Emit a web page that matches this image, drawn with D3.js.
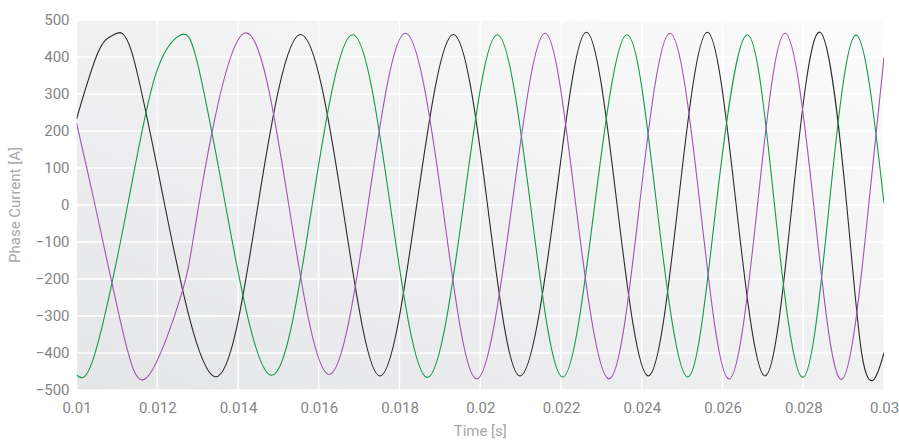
<!DOCTYPE html>
<html>
<head>
<meta charset="utf-8">
<script src="https://cdn.jsdelivr.net/npm/d3@7"></script>
<style>
  body { margin: 0; background: #fff; }
  svg { display: block; font-family: Roboto, "Noto Sans", sans-serif; }
</style>
</head>
<body>
<svg id="phase-current" width="899" height="440"></svg>
<script>
// time ticks / current ticks
const xTicks = [0.01, 0.012, 0.014, 0.016, 0.018, 0.02, 0.022, 0.024, 0.026, 0.028, 0.03];
const yTicks = [-500, -400, -300, -200, -100, 0, 100, 200, 300, 400, 500];

// phase a (black): peaks, zero crossings, troughs (+ a few shoulder points)
const blackT = [0.01, 0.01054, 0.010925, 0.011367, 0.012185, 0.01343, 0.014495, 0.015553, 0.016586, 0.017517, 0.018426, 0.019333, 0.02018, 0.020985, 0.021851, 0.022629, 0.02339, 0.024162, 0.024898, 0.025624, 0.026339, 0.027053, 0.027721, 0.028415, 0.029076, 0.029447, 0.029752, 0.03];
const blackI = [232, 414, 460, 414, 0, -464, 0, 461, 0, -462, 0, 461, 0, -462, 0, 467, 0, -462, 0, 467, 0, -462, 0, 467, 0, -401, -471, -399];

// phase b (green)
const greenT = [0.01, 0.010458, 0.011268, 0.011944, 0.012563, 0.012977, 0.01369, 0.01481, 0.015838, 0.016841, 0.01777, 0.018689, 0.019585, 0.020422, 0.021245, 0.022042, 0.022835, 0.023635, 0.02437, 0.025138, 0.025844, 0.026614, 0.027288, 0.027986, 0.028643, 0.029307, 0.03];
const greenI = [-459, -401, 0, 347, 459, 392, 0, -460, 0, 460, 0, -466, 0, 460, 0, -465, 0, 460, 0, -465, 0, 460, 0, -466, 0, 459, 4];

// phase c (purple)
const purpleT = [0.01, 0.010458, 0.011159, 0.011778, 0.012606, 0.013029, 0.014149, 0.015258, 0.016261, 0.01722, 0.018144, 0.019065, 0.019912, 0.020786, 0.021604, 0.022367, 0.023189, 0.023944, 0.0247, 0.025443, 0.026161, 0.026867, 0.027548, 0.028259, 0.02896, 0.029621, 0.03];
const purpleI = [221, 0, -347, -462, -239, 0, 464, 0, -458, 0, 464, 0, -470, 0, 464, 0, -470, 0, 464, 0, -470, 0, 464, 0, -471, 0, 399];

const phases = [
  {t: blackT, i: blackI, color: '#2a2a2a'},
  {t: greenT, i: greenI, color: '#119a4a'},
  {t: purpleT, i: purpleI, color: '#9d55b0'}
];

const margin = {top: 20, right: 15, bottom: 50, left: 76.5};
const width = 899 - margin.left - margin.right;
const height = 440 - margin.top - margin.bottom;

const svg = d3.select('#phase-current');

const defs = svg.append('defs');
const grad = defs.append('linearGradient')
  .attr('id', 'bg')
  .attr('x1', '0%').attr('y1', '100%')
  .attr('x2', '100%').attr('y2', '0%');
grad.append('stop').attr('offset', '0%').attr('stop-color', '#e4e5e7');
grad.append('stop').attr('offset', '100%').attr('stop-color', '#fcfcfc');

defs.append('clipPath').attr('id', 'plot-clip')
  .append('rect').attr('width', width).attr('height', height);

const g = svg.append('g')
  .attr('transform', `translate(${margin.left}, ${margin.top})`);

const x = d3.scaleLinear().domain([0.01, 0.03]).range([0, width]);
const y = d3.scaleLinear().domain([-500, 500]).range([height, 0]);

g.append('rect')
  .attr('width', width)
  .attr('height', height)
  .attr('fill', 'url(#bg)');

// grid
g.append('g')
  .selectAll('line')
  .data(xTicks)
  .join('line')
  .attr('x1', d => x(d)).attr('x2', d => x(d))
  .attr('y1', 0).attr('y2', height)
  .attr('stroke', '#fff')
  .attr('stroke-width', 1.3);

g.append('g')
  .selectAll('line')
  .data(yTicks)
  .join('line')
  .attr('x1', 0).attr('x2', width)
  .attr('y1', d => y(d)).attr('y2', d => y(d))
  .attr('stroke', '#fff')
  .attr('stroke-width', 1.3);

// axes, labels only
const fmt = d => String(+d.toFixed(3));

const xAxis = g.append('g')
  .attr('transform', `translate(0, ${height})`)
  .call(d3.axisBottom(x).tickValues(xTicks).tickFormat(fmt).tickSize(0).tickPadding(12));

const yAxis = g.append('g')
  .call(d3.axisLeft(y).tickValues(yTicks).tickSize(0).tickPadding(7));

[xAxis, yAxis].forEach(a => {
  a.select('.domain').remove();
  a.selectAll('text')
    .style('font-family', 'Roboto, sans-serif')
    .style('font-size', '15px')
    .style('fill', '#858585');
});

// phase currents
const line = d3.line()
  .x(d => x(d[0]))
  .y(d => y(d[1]))
  .curve(d3.curveNatural);

g.append('g')
  .attr('clip-path', 'url(#plot-clip)')
  .selectAll('path')
  .data(phases)
  .join('path')
  .attr('d', p => line(p.t.map((t, k) => [t, p.i[k]])))
  .attr('fill', 'none')
  .attr('stroke', p => p.color)
  .attr('stroke-width', 1.1);

svg.append('text')
  .attr('x', margin.left + width / 2)
  .attr('y', 436)
  .attr('text-anchor', 'middle')
  .style('font-size', '15px')
  .style('fill', '#a8a8a8')
  .text('Time [s]');

svg.append('text')
  .attr('transform', `translate(20, ${margin.top + height / 2}) rotate(-90)`)
  .attr('text-anchor', 'middle')
  .style('font-size', '15px')
  .style('fill', '#a8a8a8')
  .text('Phase Current [A]');
</script>
</body>
</html>
